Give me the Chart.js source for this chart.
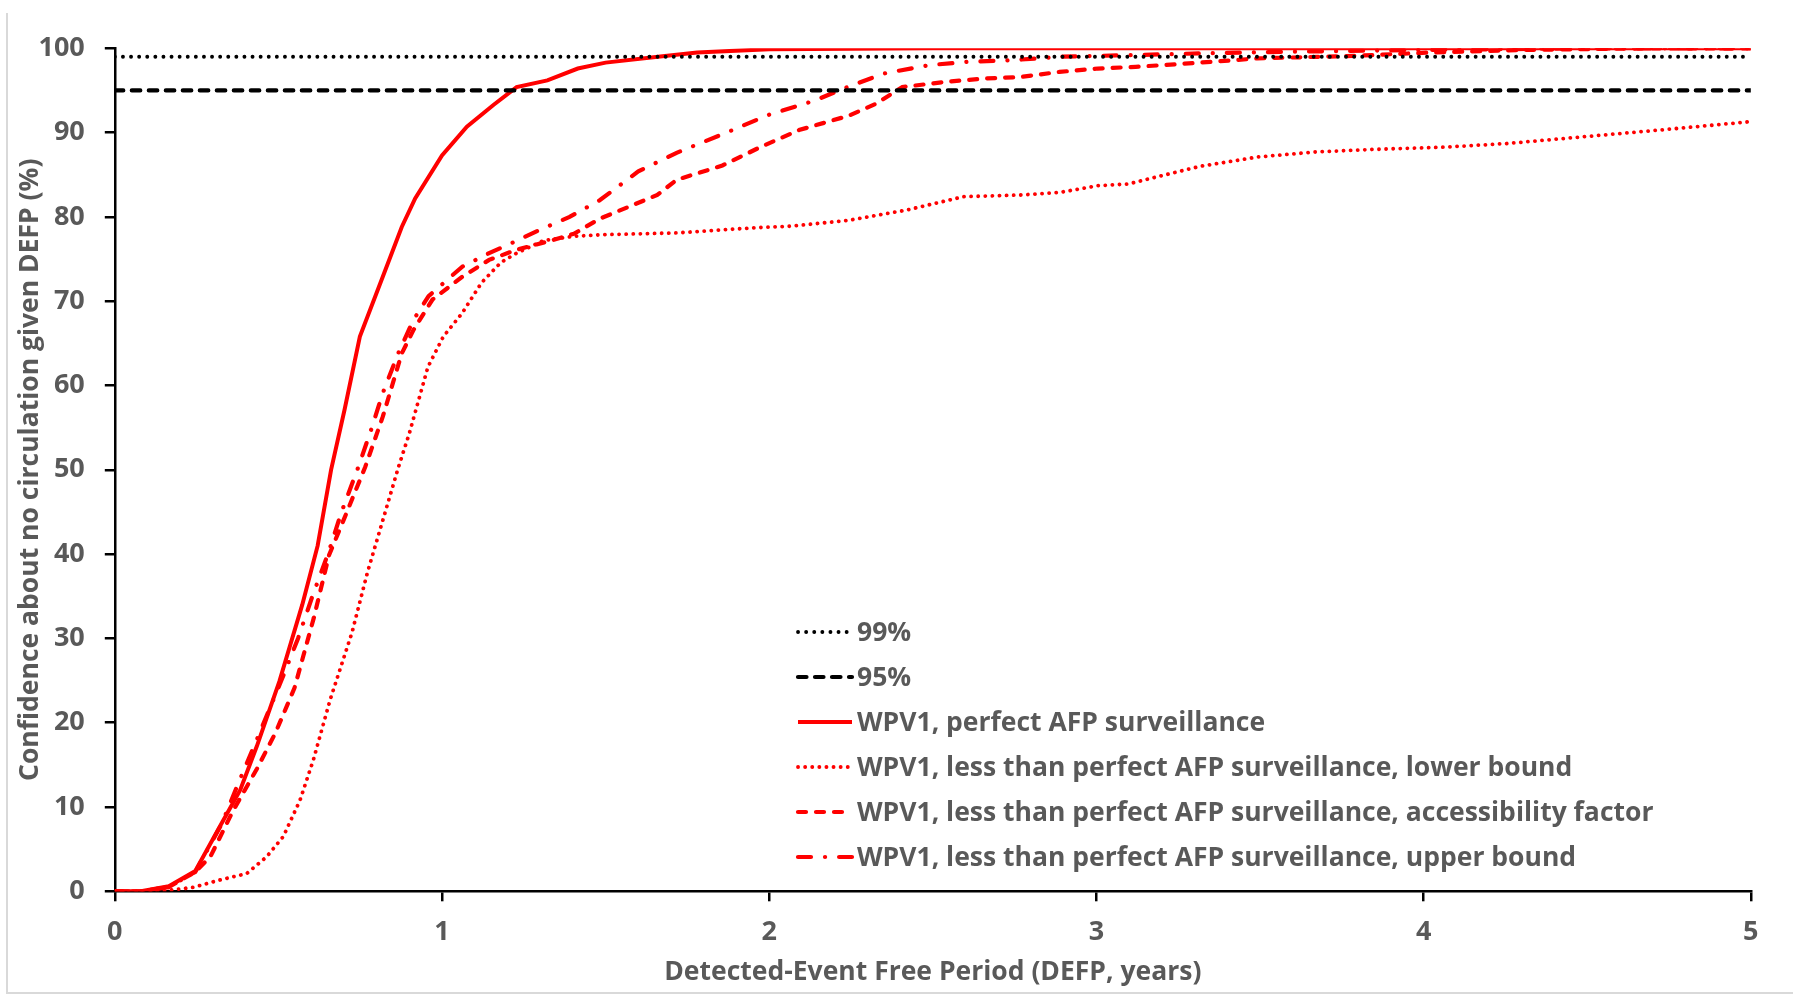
<!DOCTYPE html>
<html><head><meta charset="utf-8">
<script src="https://cdn.jsdelivr.net/npm/chart.js@4.4.1/dist/chart.umd.min.js"></script>
<style>html,body{margin:0;padding:0;background:#fff;}#wrap{position:relative;width:1800px;height:1000px;}</style>
</head><body><div id="wrap"><canvas id="c" width="1800" height="1000"></canvas></div>
<script>
// ---- data (years, %) ----
const seriesLabels = [
  "99%",
  "95%",
  "WPV1, perfect AFP surveillance",
  "WPV1, less than perfect AFP surveillance, lower bound",
  "WPV1, less than perfect AFP surveillance, accessibility factor",
  "WPV1, less than perfect AFP surveillance, upper bound"
];
const xRef = [0, 5];
const y99 = [99, 99];
const y95 = [95, 95];

const xPerfect = [0, 0.08, 0.165, 0.246, 0.327, 0.383, 0.434, 0.503, 0.573, 0.62, 0.661, 0.702, 0.749, 0.819, 0.877, 0.918, 1.0, 1.076, 1.158, 1.228, 1.322, 1.415, 1.5, 1.66, 1.78, 2.0, 2.5, 3.0, 3.5, 4.0, 4.5, 5.0];
const yPerfect = [0, 0, 0.6, 2.4, 8.1, 12.0, 17.2, 24.9, 34, 41, 50, 57.1, 65.8, 72.9, 78.8, 82.2, 87.3, 90.7, 93.3, 95.4, 96.2, 97.6, 98.3, 99.0, 99.5, 99.9, 100, 100, 100, 100, 100, 100];

const xLower = [0, 0.14, 0.24, 0.321, 0.403, 0.464, 0.515, 0.566, 0.607, 0.658, 0.725, 0.772, 0.819, 0.866, 0.90, 0.957, 1.004, 1.062, 1.121, 1.18, 1.228, 1.31, 1.403, 1.5, 1.717, 1.951, 2.068, 2.243, 2.419, 2.594, 2.769, 2.887, 3.004, 3.097, 3.18, 3.317, 3.492, 3.668, 3.843, 4.077, 4.253, 4.487, 4.721, 5.0];
const yLower = [0, 0, 0.47, 1.34, 2.1, 4.1, 6.5, 10.8, 15.6, 22.7, 30.7, 37.8, 44.0, 50.2, 54.3, 62.2, 65.8, 68.6, 72.2, 74.6, 75.7, 77.2, 77.7, 77.9, 78.1, 78.7, 78.9, 79.6, 80.8, 82.4, 82.6, 82.9, 83.7, 83.9, 84.7, 86.0, 87.1, 87.7, 88.0, 88.3, 88.7, 89.5, 90.3, 91.3];

const xAccess = [0, 0.08, 0.165, 0.246, 0.292, 0.362, 0.434, 0.491, 0.549, 0.608, 0.655, 0.702, 0.765, 0.819, 0.877, 0.913, 0.971, 1.062, 1.144, 1.228, 1.334, 1.403, 1.483, 1.658, 1.717, 1.857, 1.974, 2.091, 2.243, 2.325, 2.407, 2.535, 2.652, 2.769, 2.887, 3.004, 3.12, 3.317, 3.492, 3.785, 4.02, 4.3, 4.7, 5.0];
const yAccess = [0, 0, 0.5, 2.3, 4.1, 9.6, 14.5, 18.8, 24.1, 32.4, 39.9, 44.3, 50.3, 56.3, 63.8, 66.6, 70.2, 72.9, 74.9, 76.1, 77.2, 78.0, 79.8, 82.6, 84.4, 86.1, 88.3, 90.3, 92.0, 93.4, 95.4, 96.0, 96.4, 96.6, 97.2, 97.6, 97.8, 98.3, 98.8, 99.1, 99.5, 99.8, 100, 100];

const xUpper = [0, 0.08, 0.165, 0.246, 0.327, 0.373, 0.433, 0.509, 0.56, 0.603, 0.654, 0.692, 0.743, 0.783, 0.819, 0.866, 0.913, 0.959, 1.062, 1.144, 1.213, 1.295, 1.39, 1.483, 1.6, 1.717, 1.857, 1.998, 2.139, 2.232, 2.349, 2.489, 2.606, 2.747, 2.887, 3.12, 3.317, 3.6, 4.0, 4.5, 5.0];
const yUpper = [0, 0, 0.5, 2.3, 8.0, 12.4, 17.9, 25, 30, 34.9, 40.3, 44.9, 50.2, 54.7, 59.1, 63.8, 67.8, 70.6, 74.1, 75.7, 76.9, 78.4, 80.0, 82.0, 85.4, 87.6, 89.8, 92.1, 93.8, 95.3, 97.0, 98.0, 98.4, 98.6, 99.0, 99.2, 99.4, 99.6, 99.8, 100, 100];

const xAxisTitle = "Detected-Event Free Period (DEFP, years)";
const yAxisTitle = "Confidence about no circulation given DEFP (%)";

const pts = (xs, ys) => xs.map((x, i) => ({x: x, y: ys[i]}));
const RED = '#ff0000', BLACK = '#000000', TEXT = '#595959';
const FONT = "'Open Sans', 'DejaVu Sans', sans-serif";
const TEXT_SIZE = 26.5;

function ds(label, data, color, width, dash, cap) {
  return { label, data, borderColor: color, backgroundColor: color, borderWidth: width,
    borderDash: dash, borderCapStyle: cap, pointRadius: 0, pointHoverRadius: 0, tension: 0, fill: false };
}

const datasets = [
  ds(seriesLabels[0], pts(xRef, y99), BLACK, 3.8, [0.1, 8], 'round'),
  ds(seriesLabels[1], pts(xRef, y95), BLACK, 4.2, [8.5, 8.5], 'round'),
  ds(seriesLabels[2], pts(xPerfect, yPerfect), RED, 4, [], 'butt'),
  ds(seriesLabels[3], pts(xLower, yLower), RED, 3.8, [0.1, 7], 'round'),
  ds(seriesLabels[4], pts(xAccess, yAccess), RED, 4.2, [8, 10], 'round'),
  ds(seriesLabels[5], pts(xUpper, yUpper), RED, 4.2, [13, 14, 0.1, 14], 'round')
];

const framePlugin = {
  id: 'frame',
  beforeDraw(chart) {
    const c = chart.ctx;
    c.save();
    c.fillStyle = '#fff';
    c.fillRect(0, 0, chart.width, chart.height);
    c.strokeStyle = '#d9d9d9';
    c.lineWidth = 2;
    c.beginPath();
    c.moveTo(7, 13); c.lineTo(7, 993); c.lineTo(1793, 993);
    c.stroke();
    c.restore();
  }
};

const legendPlugin = {
  id: 'customLegend',
  afterDraw(chart) {
    const c = chart.ctx;
    c.save();
    const x0 = 798, x1 = 852, tx = 857, top = 632, step = 45;
    chart.data.datasets.forEach((d, i) => {
      const y = top + i * step;
      c.strokeStyle = d.borderColor;
      c.lineWidth = d.borderWidth;
      c.lineCap = d.borderCapStyle;
      c.setLineDash(d.borderDash);
      c.beginPath(); c.moveTo(x0, y); c.lineTo(x1, y); c.stroke();
      c.setLineDash([]);
      c.fillStyle = TEXT;
      c.font = "bold " + TEXT_SIZE + "px " + FONT;
      c.textBaseline = 'middle';
      c.textAlign = 'left';
      c.fillText(d.label, tx, y + 1);
    });
    c.restore();
  }
};

new Chart(document.getElementById('c'), {
  type: 'line',
  data: { datasets },
  plugins: [framePlugin, legendPlugin],
  options: {
    responsive: false,
    animation: false,
    events: [],
    layout: { padding: { left: 0, top: 48.3, right: 49.2, bottom: 0 } },
    plugins: { legend: { display: false }, tooltip: { enabled: false } },
    scales: {
      x: {
        type: 'linear', min: 0, max: 5,
        afterFit: (s) => { s.height = 108.7; },
        ticks: { stepSize: 1, color: TEXT, padding: 15, font: { family: FONT, size: 27, weight: 'bold' } },
        grid: { display: true, drawOnChartArea: false, drawTicks: true, tickLength: 10, color: BLACK, lineWidth: 2.5 },
        border: { display: true, color: BLACK, width: 2.5 },
        title: { display: true, text: xAxisTitle, color: TEXT, padding: { top: 0, bottom: 12 }, font: { family: FONT, size: TEXT_SIZE, weight: 'bold' } }
      },
      y: {
        type: 'linear', min: 0, max: 100,
        afterFit: (s) => { s.width = 114.8; },
        ticks: { stepSize: 10, color: TEXT, padding: 20, font: { family: FONT, size: 27, weight: 'bold' } },
        grid: { display: true, drawOnChartArea: false, drawTicks: true, tickLength: 10, color: BLACK, lineWidth: 2.5 },
        border: { display: true, color: BLACK, width: 2.5 },
        title: { display: true, text: yAxisTitle, color: TEXT, padding: { top: 15, bottom: 0 }, font: { family: FONT, size: TEXT_SIZE, weight: 'bold' } }
      }
    }
  }
});
</script></body></html>
